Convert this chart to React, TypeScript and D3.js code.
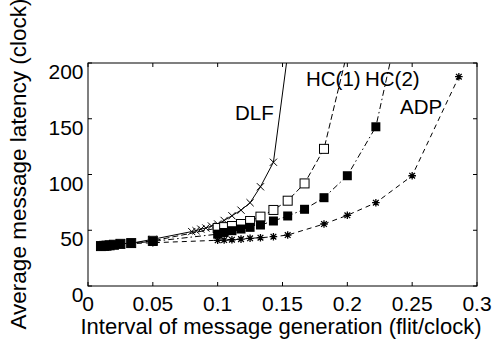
import React from 'react';
import * as d3 from 'd3';

// 横轴刻度 / 纵轴刻度
const xTicks = [0, 0.05, 0.1, 0.15, 0.2, 0.25, 0.3];
const yTicks = [0, 50, 100, 150, 200];

// DLF
const dlfX = [0.01, 0.0125, 0.0143, 0.0167, 0.02, 0.025, 0.0333, 0.05, 0.08, 0.0833, 0.087, 0.0909, 0.0952, 0.1, 0.105, 0.111, 0.118, 0.125, 0.133, 0.143, 0.154];
const dlfY = [36, 36.3, 36.5, 37, 37.5, 38, 38.3, 41.9, 48.8, 49.6, 51, 52, 53.8, 55.6, 58.8, 63, 68, 74.7, 89, 111, 208];
// HC(1)
const hc1X = [0.01, 0.0125, 0.0143, 0.0167, 0.02, 0.025, 0.0333, 0.05, 0.1, 0.105, 0.111, 0.118, 0.125, 0.133, 0.143, 0.154, 0.167, 0.182, 0.2];
const hc1Y = [35.8, 36, 36.2, 36.5, 37, 37.8, 38.5, 40.5, 52, 52.8, 53.8, 55.6, 58.3, 62.2, 68.2, 76.5, 92, 123, 210];
// HC(2)
const hc2X = [0.01, 0.0125, 0.0143, 0.0167, 0.02, 0.025, 0.0333, 0.05, 0.1, 0.105, 0.111, 0.118, 0.125, 0.133, 0.143, 0.154, 0.167, 0.182, 0.2, 0.222, 0.25];
const hc2Y = [35.8, 36, 36.2, 36.5, 37, 37.6, 38.3, 40, 46.5, 48, 49.6, 51.1, 52.6, 54.7, 58.3, 62.8, 68.8, 79.2, 98.9, 142.8, 290];
// ADP
const adpX = [0.01, 0.0125, 0.0143, 0.0167, 0.02, 0.025, 0.0333, 0.05, 0.1, 0.105, 0.111, 0.118, 0.125, 0.133, 0.143, 0.154, 0.182, 0.2, 0.222, 0.25, 0.286];
const adpY = [35.5, 35.8, 36, 36.3, 36.8, 37.3, 38, 38.8, 41, 41.2, 41.5, 42, 42.8, 43.3, 44.2, 45.7, 55.6, 63.4, 74.7, 98.9, 187.7];

const W = 500;
const H = 344;
const left = 88;
const right = 477;
const top = 63;
const bottom = 286;
const font = "'Liberation Sans', Arial, Helvetica, sans-serif";

const x = d3.scaleLinear().domain([0, 0.3]).range([left, right]);
const y = d3.scaleLinear().domain([0, 200]).range([bottom, top]);

const series = [
  {name: 'DLF', xs: dlfX, ys: dlfY, dash: 'none', marker: 'x', label: [235, 120]},
  {name: 'HC(1)', xs: hc1X, ys: hc1Y, dash: '6,3', marker: 'open', label: [306, 86]},
  {name: 'HC(2)', xs: hc2X, ys: hc2Y, dash: '6,3,1.5,3', marker: 'filled', label: [365, 86]},
  {name: 'ADP', xs: adpX, ys: adpY, dash: '5,4', marker: 'star', label: [400, 114]},
];

function Marker({kind, cx, cy}: {kind: string, cx: number, cy: number}) {
  const r = 3.6;
  if (kind === 'x') {
    return <path d={`M${cx - r},${cy - r}L${cx + r},${cy + r}M${cx - r},${cy + r}L${cx + r},${cy - r}`} stroke="#000" strokeWidth={1}/>;
  }
  if (kind === 'open') {
    return <rect x={cx - 4.5} y={cy - 4.5} width={9} height={9} fill="#fff" stroke="#000" strokeWidth={1}/>;
  }
  if (kind === 'filled') {
    return <rect x={cx - 4.5} y={cy - 4.5} width={9} height={9} fill="#000"/>;
  }
  // 星号
  const s = 3.8;
  const d = s * 0.75;
  return <path d={`M${cx - s},${cy}L${cx + s},${cy}M${cx},${cy - s}L${cx},${cy + s}M${cx - d},${cy - d}L${cx + d},${cy + d}M${cx - d},${cy + d}L${cx + d},${cy - d}`} stroke="#000" strokeWidth={1.3}/>;
}

export default function App() {
  const line = d3.line<[number, number]>()
    .x(d => x(d[0]))
    .y(d => y(d[1]));

  return (
    <svg width={W} height={H} style={{position: 'absolute', left: 0, top: 0, background: '#fff'}} fontFamily={font}>
      <defs>
        <clipPath id="plot">
          <rect x={left} y={top} width={right - left} height={bottom - top}/>
        </clipPath>
      </defs>
      <rect x={0} y={0} width={W} height={H} fill="#fff"/>

      {/* 刻度线 */}
      {xTicks.map(t => (
        <g key={'xt' + t}>
          <line x1={x(t)} x2={x(t)} y1={bottom} y2={bottom - 4} stroke="#000"/>
          <line x1={x(t)} x2={x(t)} y1={top} y2={top + 4} stroke="#000"/>
          <text x={x(t)} y={311} textAnchor="middle" fontSize={21}>{t}</text>
        </g>
      ))}
      {yTicks.map(t => (
        <g key={'yt' + t}>
          <line x1={left} x2={left + 4} y1={y(t)} y2={y(t)} stroke="#000"/>
          <line x1={right} x2={right - 4} y1={y(t)} y2={y(t)} stroke="#000"/>
          <text x={83.5} y={y(t) + 16} textAnchor="end" fontSize={21}>{t}</text>
        </g>
      ))}

      <g clipPath="url(#plot)">
        {series.map(s => (
          <path key={s.name} d={line(s.xs.map((v, i) => [v, s.ys[i]] as [number, number])) || ''}
                fill="none" stroke="#000" strokeWidth={1} strokeDasharray={s.dash}/>
        ))}
        {series.map(s => (
          <g key={s.name + 'm'}>
            {s.xs.map((v, i) => s.ys[i] <= 200 ? (
              <Marker key={i} kind={s.marker} cx={x(v)} cy={y(s.ys[i])}/>
            ) : null)}
          </g>
        ))}
      </g>

      <rect x={left} y={top} width={right - left} height={bottom - top} fill="none" stroke="#000" strokeWidth={1}/>

      {series.map(s => (
        <text key={s.name + 'l'} x={s.label[0]} y={s.label[1]} fontSize={20.5}>{s.name}</text>
      ))}

      <text x={281} y={334} textAnchor="middle" fontSize={22}>Interval of message generation (flit/clock)</text>
      <text transform={`translate(26,164) rotate(-90)`} textAnchor="middle" fontSize={22.5}>Average message latency (clock)</text>
    </svg>
  );
}
